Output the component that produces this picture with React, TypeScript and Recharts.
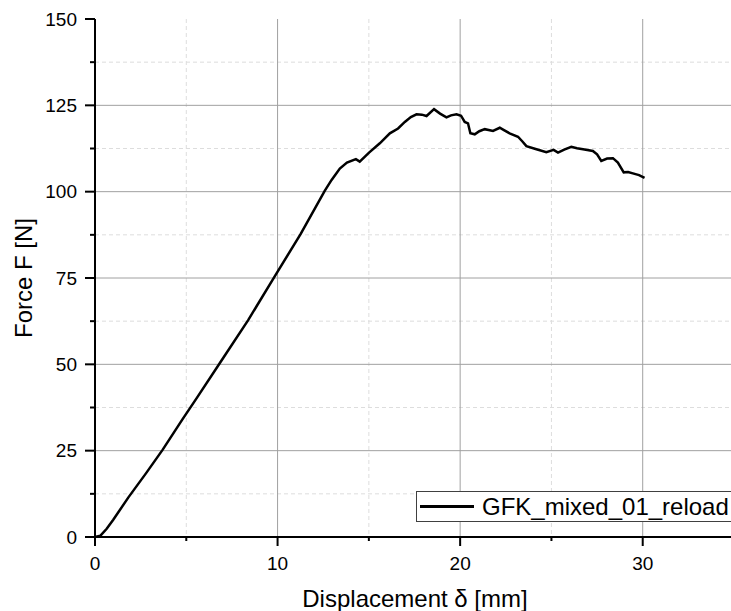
import { LineChart, Line, XAxis, YAxis, CartesianGrid, Legend } from "recharts";

// displacement [mm] and force [N]
const displacement = [
  0, 0.3, 0.64, 1.0, 1.82, 2.8, 3.71, 4.78, 5.57, 6.84, 8.39, 9.81, 11.26, 12.59,
  12.96, 13.41, 13.8, 14.29, 14.5, 15.01, 15.6, 16.15, 16.6, 16.97, 17.3, 17.61,
  17.9, 18.16, 18.57, 18.9, 19.25, 19.5, 19.8, 20.05, 20.25, 20.43, 20.56, 20.8,
  21.05, 21.35, 21.8, 22.17, 22.4, 22.71, 23.17, 23.4, 23.63, 24.18, 24.72,
  25.12, 25.36, 25.7, 26.09, 26.4, 26.73, 27.27, 27.5, 27.73, 28.05, 28.37,
  28.64, 28.96, 29.2, 29.46, 29.8, 30.1,
];
const force = [
  0, 0.4, 2.4, 5.0, 11.4, 18.5, 25.3, 34.0, 40.2, 50.4, 62.8, 75.2, 87.7, 100.3,
  103.4, 106.7, 108.4, 109.4, 108.7, 111.3, 114.0, 116.9, 118.3, 120.2, 121.6,
  122.4, 122.3, 121.9, 123.9, 122.6, 121.5, 122.1, 122.4, 122.0, 120.2, 119.8,
  116.9, 116.6, 117.5, 118.1, 117.6, 118.5, 117.8, 116.9, 115.9, 114.6, 113.2,
  112.3, 111.4, 112.1, 111.3, 112.2, 113.0, 112.6, 112.3, 111.8, 110.8, 108.9,
  109.6, 109.7, 108.4, 105.6, 105.7, 105.3, 104.8, 104.0,
];

const xTicks = [0, 5, 10, 15, 20, 25, 30];
const xMajor = [0, 10, 20, 30];
const yTicks = [0, 12.5, 25, 37.5, 50, 62.5, 75, 87.5, 100, 112.5, 125, 137.5, 150];
const yMajor = [0, 25, 50, 75, 100, 125, 150];
const xGridMajor = [10, 20, 30];
const xGridMinor = [5, 15, 25];
const yGridMajor = [25, 50, 75, 100, 125];
const yGridMinor = [12.5, 37.5, 62.5, 87.5, 112.5, 137.5];

const seriesName = "GFK_mixed_01_reload";

const data = displacement.map((d, i) => ({ d, f: force[i] }));

const FONT = "'Liberation Sans', Arial, sans-serif";

const YTick = (props: any) => {
  const { x, y, payload } = props;
  const major = yMajor.includes(payload.value);
  return (
    <g>
      <line x1={x - (major ? 10 : 5)} x2={x} y1={y} y2={y} stroke="#000" strokeWidth={2} />
      {major && (
        <text x={x - 18} y={y + 6.6} textAnchor="end" fontSize={19} fontFamily={FONT} fill="#000">
          {payload.value}
        </text>
      )}
    </g>
  );
};

const XTick = (props: any) => {
  const { x, y, payload } = props;
  const major = xMajor.includes(payload.value);
  return (
    <g>
      <line x1={x} x2={x} y1={y} y2={y + (major ? 9 : 4)} stroke="#000" strokeWidth={2} />
      {major && (
        <text x={x} y={y + 32.5} textAnchor="middle" fontSize={19} fontFamily={FONT} fill="#000">
          {payload.value}
        </text>
      )}
    </g>
  );
};

const LegendBox = () => (
  <div
    style={{
      width: 318,
      height: 31,
      border: "1.5px solid #404040",
      background: "#fff",
      display: "flex",
      alignItems: "center",
      fontFamily: FONT,
      fontSize: 24,
      color: "#000",
      boxSizing: "border-box",
    }}
  >
    <span style={{ display: "inline-block", width: 54, height: 3, background: "#000", marginLeft: 3, marginRight: 8 }} />
    <span>{seriesName}</span>
  </div>
);

export default function App() {
  return (
    <div style={{ position: "absolute", left: 0, top: 0, background: "#fff" }}>
      <LineChart width={731} height={611} data={data} margin={{ top: 19, right: -3, bottom: 0, left: 0 }}>
        <CartesianGrid
          horizontalValues={yGridMinor}
          verticalValues={xGridMinor}
          stroke="#dddddd"
          strokeDasharray="4 3"
        />
        <CartesianGrid horizontalValues={yGridMajor} verticalValues={xGridMajor} stroke="#a0a0a0" />
        <XAxis
          type="number"
          dataKey="d"
          domain={[0, 35]}
          ticks={xTicks}
          interval={0}
          height={74}
          tickSize={0}
          tickMargin={0}
          tickLine={false}
          axisLine={{ stroke: "#000", strokeWidth: 2 }}
          tick={<XTick />}
          label={{
            content: () => (
              <text x={415} y={607} textAnchor="middle" fontSize={24} fontFamily={FONT} fill="#000">
                Displacement δ [mm]
              </text>
            ),
          }}
        />
        <YAxis
          type="number"
          domain={[0, 150]}
          ticks={yTicks}
          interval={0}
          width={95}
          tickSize={0}
          tickMargin={0}
          tickLine={false}
          axisLine={{ stroke: "#000", strokeWidth: 2 }}
          tick={<YTick />}
          label={{
            content: () => (
              <text
                x={31.5}
                y={278}
                transform="rotate(-90 31.5 278)"
                textAnchor="middle"
                fontSize={24}
                fontFamily={FONT}
                fill="#000"
              >
                Force F [N]
              </text>
            ),
          }}
        />
        <Line
          type="linear"
          dataKey="f"
          name={seriesName}
          stroke="#000"
          strokeWidth={2.5}
          dot={false}
          isAnimationActive={false}
        />
        <Legend
          layout="horizontal"
          verticalAlign="middle"
          align="center"
          content={<LegendBox />}
          wrapperStyle={{ left: 416, top: 491, width: 318, height: 31 }}
        />
      </LineChart>
    </div>
  );
}
